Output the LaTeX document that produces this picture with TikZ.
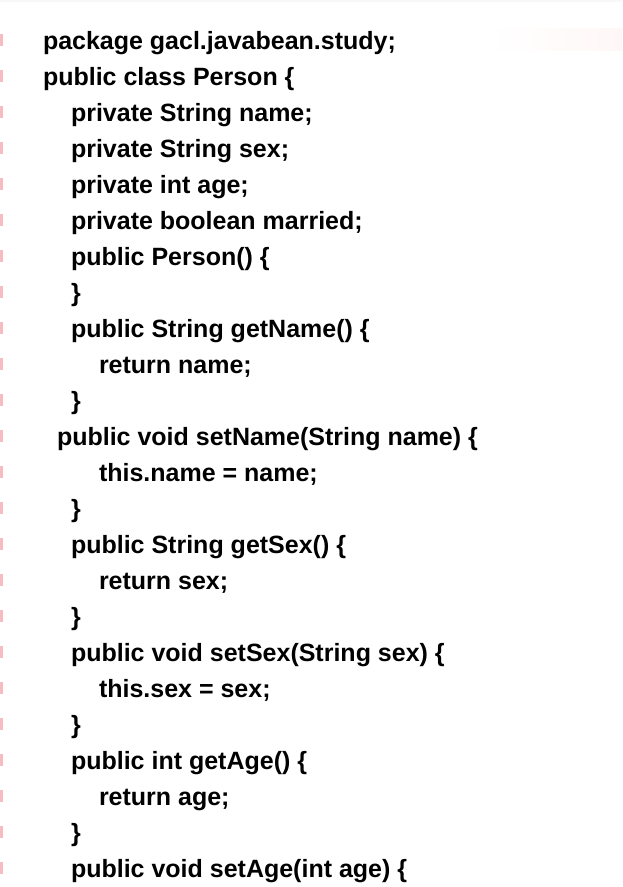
\documentclass[tikz,border=0pt]{standalone}
\usepackage{fontspec}
\setmainfont{Liberation Sans}
\definecolor{mark}{HTML}{F6BCC2}
\definecolor{topband}{HTML}{F8F8F8}
\definecolor{faintpink}{HTML}{FFF7F7}
\tikzset{
  code/.style={anchor=base west, inner sep=0pt, outer sep=0pt,
    font=\fontsize{25pt}{30pt}\selectfont\bfseries, text=black},
  tick/.style={fill=mark, draw=none}
}
\newcommand{\lineY}[1]{49+36*(#1-1)}
\begin{document}
\begin{tikzpicture}[x=1pt,y=-1pt]
\useasboundingbox (0,0) rectangle (622,887);
\fill[white] (0,0) rectangle (622,887);
\fill[topband] (0,0) rectangle (622,2);
\shade[left color=white, right color=faintpink] (490,28) rectangle (622,50);
\foreach \i in {1,...,24}{
  \fill[tick] (0,{\lineY{\i}-15}) rectangle (3,{\lineY{\i}-3});
}
\node[code] (l1)  at (43,{\lineY{1}})  {package gacl.javabean.study;};
\node[code] (l2)  at (43,{\lineY{2}})  {public class Person \{};
\node[code] (l3)  at (71,{\lineY{3}})  {private String name;};
\node[code] (l4)  at (71,{\lineY{4}})  {private String sex;};
\node[code] (l5)  at (71,{\lineY{5}})  {private int age;};
\node[code] (l6)  at (71,{\lineY{6}})  {private boolean married;};
\node[code] (l7)  at (71,{\lineY{7}})  {public Person() \{};
\node[code] (l8)  at (71,{\lineY{8}})  {\}};
\node[code] (l9)  at (71,{\lineY{9}})  {public String getName() \{};
\node[code] (l10) at (99,{\lineY{10}}) {return name;};
\node[code] (l11) at (71,{\lineY{11}}) {\}};
\node[code] (l12) at (57,{\lineY{12}}) {public void setName(String name) \{};
\node[code] (l13) at (99,{\lineY{13}}) {this.name = name;};
\node[code] (l14) at (71,{\lineY{14}}) {\}};
\node[code] (l15) at (71,{\lineY{15}}) {public String getSex() \{};
\node[code] (l16) at (99,{\lineY{16}}) {return sex;};
\node[code] (l17) at (71,{\lineY{17}}) {\}};
\node[code] (l18) at (71,{\lineY{18}}) {public void setSex(String sex) \{};
\node[code] (l19) at (99,{\lineY{19}}) {this.sex = sex;};
\node[code] (l20) at (71,{\lineY{20}}) {\}};
\node[code] (l21) at (71,{\lineY{21}}) {public int getAge() \{};
\node[code] (l22) at (99,{\lineY{22}}) {return age;};
\node[code] (l23) at (71,{\lineY{23}}) {\}};
\node[code] (l24) at (71,{\lineY{24}}) {public void setAge(int age) \{};
\end{tikzpicture}
\end{document}
